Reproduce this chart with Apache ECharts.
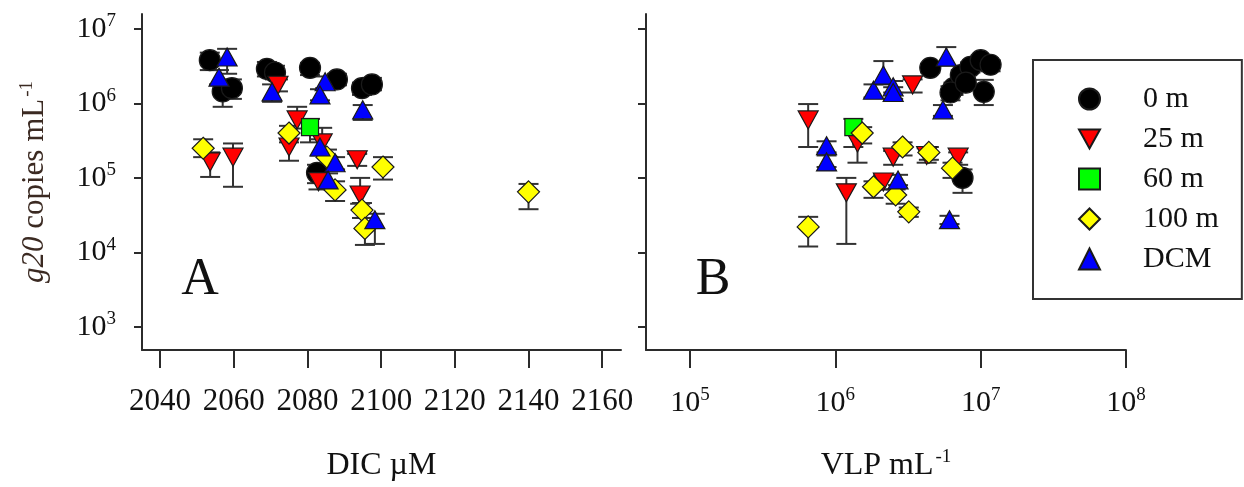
<!DOCTYPE html>
<html><head><meta charset="utf-8">
<script src="https://cdn.jsdelivr.net/npm/echarts@6/dist/echarts.min.js"></script>
<style>html,body{margin:0;padding:0;background:#fff}#c{width:1244px;height:487px}</style>
</head><body><div id="c"></div>
<script>
const seriesNames = ['0 m', '25 m', '60 m', '100 m', 'DCM'];
// Panel A rows: [DIC µM, g20 copies mL-1, lower error, upper error]
const dic0m = [[2053.5,3.8e6,2.8e6,4.8e6],[2057,1.45e6,9.0e5,2.0e6],[2059.5,1.6e6,1.15e6,2.1e6],[2069,2.9e6,2.3e6,3.6e6],[2071.2,2.6e6,2.1e6,3.2e6],[2080.7,3.0e6,2.4e6,3.5e6],[2088,2.1e6,1.75e6,2.5e6],[2094.8,1.6e6,1.3e6,1.9e6],[2097.5,1.8e6,1.5e6,2.2e6],[2082.6,1.17e5,8.5e4,1.5e5]];
const dic25m = [[2053.6,1.64e5,1.03e5,2.2e5],[2059.8,1.9e5,7.6e4,2.9e5],[2072,1.75e6,1.45e6,2.1e6],[2077.2,6.0e5,4.6e5,9.0e5],[2075,2.6e5,1.7e5,3.3e5],[2084,2.95e5,2.2e5,4.7e5],[2083,8.9e4,7.0e4,1.1e5],[2093.5,1.75e5,1.45e5,2.1e5],[2094.3,5.9e4,4.5e4,1.0e5]];
const dic60m = [[2080.7,4.8e5,3.0e5,6.2e5]];
const dic100m = [[2051.7,2.5e5,1.9e5,3.3e5],[2075,4.0e5,3.0e5,5.0e5],[2085.3,1.9e5,1.5e5,2.4e5],[2087.5,6.9e4,4.9e4,9.0e4],[2100.5,1.4e5,9.5e4,1.9e5],[2094.8,3.7e4,2.9e4,4.6e4],[2095.6,2.1e4,1.26e4,2.9e4],[2140,6.5e4,3.8e4,8.3e4]];
const dicDCM = [[2058.2,4.2e6,2.5e6,5.4e6],[2056,2.25e6,1.8e6,2.8e6],[2070.4,1.43e6,1.05e6,1.8e6],[2084.8,1.95e6,1.6e6,2.3e6],[2083.4,1.3e6,1.1e6,1.55e6],[2095,8.2e5,6.0e5,9.5e5],[2083.4,2.6e5,2.0e5,3.3e5],[2087.5,1.6e5,1.3e5,1.9e5],[2085.6,9.4e4,7.6e4,1.15e5],[2098.3,2.75e4,1.3e4,3.3e4]];
// Panel B rows: [VLP mL-1, g20 copies mL-1, lower error, upper error]
const vlp0m = [[4.5e6,3.0e6,2.6e6,3.4e6],[6.5e6,1.6e6,1.3e6,1.9e6],[7.3e6,2.4e6,2.0e6,2.8e6],[8.5e6,3.1e6,2.6e6,3.6e6],[1.0e7,3.8e6,3.2e6,4.4e6],[1.17e7,3.3e6,2.7e6,3.8e6],[1.05e7,1.43e6,9.5e5,2.07e6],[6.2e6,1.4e6,1.1e6,1.7e6],[7.9e6,1.9e6,1.6e6,2.2e6],[7.5e6,1.0e5,6.3e4,1.3e5]];
const vlp25m = [[6.5e5,6.0e5,2.6e5,9.8e5],[1.42e6,2.95e5,1.6e5,4.0e5],[1.19e6,6.3e4,1.3e4,1.0e5],[3.4e6,1.77e6,1.4e6,2.1e6],[2.5e6,1.9e5,1.5e5,2.3e5],[4.25e6,2.0e5,1.6e5,2.5e5],[7.0e6,1.9e5,1.5e5,2.2e5],[2.14e6,8.8e4,7.0e4,1.1e5]];
const vlp60m = [[1.33e6,4.8e5,2.6e5,6.2e5]];
const vlp100m = [[1.53e6,4.0e5,2.9e5,4.8e5],[6.5e5,2.2e4,1.2e4,3.0e4],[1.83e6,7.6e4,5.4e4,9.0e4],[2.6e6,5.9e4,4.5e4,7.0e4],[3.2e6,3.5e4,3.0e4,4.0e4],[4.4e6,2.2e5,1.75e5,2.6e5],[2.9e6,2.6e5,2.0e5,3.0e5],[6.4e6,1.35e5,1.0e5,1.6e5]];
const vlpDCM = [[8.7e5,2.7e5,2.2e5,3.1e5],[8.7e5,1.64e5,1.4e5,2.0e5],[1.83e6,1.5e6,1.2e6,1.8e6],[2.14e6,2.4e6,1.8e6,3.7e6],[2.5e6,1.67e6,1.4e6,2.0e6],[2.5e6,1.4e6,1.15e6,1.65e6],[5.8e6,4.2e6,3.2e6,5.7e6],[5.5e6,8.2e5,6.8e5,9.5e5],[2.7e6,9.4e4,8.0e4,1.1e5],[6.1e6,2.75e4,2.4e4,3.1e4]];
const dicTicks = [2040, 2060, 2080, 2100, 2120, 2140, 2160];
const g20Exponents = [3, 4, 5, 6, 7];
const vlpExponents = [5, 6, 7, 8];

const panelA = [dic0m, dic25m, dic60m, dic100m, dicDCM];
const panelB = [vlp0m, vlp25m, vlp60m, vlp100m, vlpDCM];
const FONT = '"Liberation Serif", "Times New Roman", serif';
const TXT = '#111';
const AX = '#2b2b2b';
const styles = [
  {symbol: 'circle', size: 21, color: '#000000'},
  {symbol: 'path://M0,0L20,0L10,18Z', size: [20, 18], color: '#ff0000'},
  {symbol: 'rect', size: 17, color: '#00ff00'},
  {symbol: 'diamond', size: 22, color: '#ffff00'},
  {symbol: 'triangle', size: [20, 18], color: '#0000ff'}
];
const lg = Math.log10;
const powRich = {
  a: {fontFamily: FONT, fontSize: 30, color: TXT, lineHeight: 34},
  s: {fontFamily: FONT, fontSize: 19, color: TXT, lineHeight: 34, verticalAlign: 'top', padding: [0, 0, 14, 0]}
};
const powFmt = v => '{a|10}{s|' + Math.round(v) + '}';

function errRender(params, api) {
  const x = api.value(0);
  const p1 = api.coord([x, api.value(2)]);
  const p2 = api.coord([x, api.value(3)]);
  const w = 10;
  const st = {stroke: '#333', lineWidth: 2};
  return {type: 'group', children: [
    {type: 'line', shape: {x1: p1[0], y1: p1[1], x2: p2[0], y2: p2[1]}, style: st},
    {type: 'line', shape: {x1: p1[0] - w, y1: p1[1], x2: p1[0] + w, y2: p1[1]}, style: st},
    {type: 'line', shape: {x1: p2[0] - w, y1: p2[1], x2: p2[0] + w, y2: p2[1]}, style: st}
  ]};
}

const series = [];
[[panelA, 0, false], [panelB, 1, true]].forEach(([panel, gi, logX]) => {
  panel.forEach((rows, i) => {
    const tx = v => logX ? lg(v) : v;
    series.push({
      type: 'custom', name: 'err' + gi + i, xAxisIndex: gi, yAxisIndex: gi, z: 2, silent: true,
      data: rows.map(r => [tx(r[0]), lg(r[1]), lg(r[2]), lg(r[3])]),
      renderItem: errRender
    });
  });
  panel.forEach((rows, i) => {
    const tx = v => logX ? lg(v) : v;
    const s = styles[i];
    series.push({
      type: 'scatter', name: seriesNames[i], xAxisIndex: gi, yAxisIndex: gi, z: 3,
      symbol: s.symbol, symbolSize: s.size,
      itemStyle: {color: s.color, borderColor: '#1a1a1a', borderWidth: 1.2, opacity: 1},
      data: rows.map(r => [tx(r[0]), lg(r[1])])
    });
  });
});

const yAxisBase = (showLabels) => ({
  type: 'value', min: 2.69, max: 7.2,
  axisLine: {show: true, lineStyle: {color: AX, width: 2}},
  axisTick: {show: true, length: 8, lineStyle: {color: AX, width: 2}, customValues: g20Exponents},
  axisLabel: {show: showLabels, margin: 26, formatter: powFmt, rich: powRich, customValues: g20Exponents},
  splitLine: {show: false}
});

const option = {
  backgroundColor: '#ffffff',
  animation: false,
  grid: [
    {left: 142, top: 14, width: 479, height: 336},
    {left: 646, top: 14, width: 480, height: 336}
  ],
  xAxis: [
    {type: 'value', gridIndex: 0, min: 2035.1, max: 2165.1,
     name: 'DIC µM', nameLocation: 'middle', nameGap: 100,
     nameTextStyle: {fontFamily: FONT, fontSize: 32, color: TXT},
     axisLine: {show: true, lineStyle: {color: AX, width: 2}},
     axisTick: {show: true, length: 18, lineStyle: {color: AX, width: 2}, customValues: dicTicks},
     axisLabel: {margin: 36, fontFamily: FONT, fontSize: 31, color: TXT, customValues: dicTicks,
                 formatter: v => String(Math.round(v))},
     splitLine: {show: false}},
    {type: 'value', gridIndex: 1, min: 4.697, max: 8.0,
     name: '{a|VLP mL}{s|-1}', nameLocation: 'middle', nameGap: 98,
     nameTextStyle: {fontFamily: FONT, fontSize: 32, color: TXT, rich: {
       a: {fontFamily: FONT, fontSize: 32, color: TXT, lineHeight: 36},
       s: {fontFamily: FONT, fontSize: 19, color: TXT, lineHeight: 36, verticalAlign: 'top', padding: [0, 0, 14, 2]}}},
     axisLine: {show: true, lineStyle: {color: AX, width: 2}},
     axisTick: {show: true, length: 18, lineStyle: {color: AX, width: 2}, customValues: vlpExponents},
     axisLabel: {margin: 36, formatter: powFmt, rich: powRich, customValues: vlpExponents},
     splitLine: {show: false}}
  ],
  yAxis: [
    Object.assign(yAxisBase(true), {gridIndex: 0,
      name: '{i|g20} {a|copies mL}{s|-1}', nameLocation: 'middle', nameRotate: 90, nameGap: 90,
      nameTextStyle: {fontFamily: FONT, fontSize: 31, color: '#3b2a22', rich: {
        i: {fontFamily: FONT, fontSize: 31, fontStyle: 'italic', color: '#3b2a22', lineHeight: 34},
        a: {fontFamily: FONT, fontSize: 31, color: '#3b2a22', lineHeight: 34},
        s: {fontFamily: FONT, fontSize: 19, color: '#3b2a22', lineHeight: 34, verticalAlign: 'top', padding: [0, 0, 13, 2]}}}}),
    Object.assign(yAxisBase(false), {gridIndex: 1})
  ],
  legend: {
    data: seriesNames, orient: 'vertical', left: 1033, top: 60,
    padding: [24, 23, 25, 45], itemGap: 10, itemWidth: 21, itemHeight: 21,
    borderColor: '#333', borderWidth: 2, selectedMode: false,
    textStyle: {fontFamily: FONT, fontSize: 30, color: TXT, lineHeight: 30, padding: [0, 0, 0, 38]}
  },
  graphic: [
    {type: 'text', x: 200, y: 280, style: {text: 'A', font: '52px ' + FONT, fill: TXT, align: 'center', verticalAlign: 'middle'}},
    {type: 'text', x: 713, y: 280, style: {text: 'B', font: '52px ' + FONT, fill: TXT, align: 'center', verticalAlign: 'middle'}}
  ],
  series: series
};
const chart = echarts.init(document.getElementById('c'), null, {renderer: 'canvas'});
chart.setOption(option);
</script>
</body></html>
